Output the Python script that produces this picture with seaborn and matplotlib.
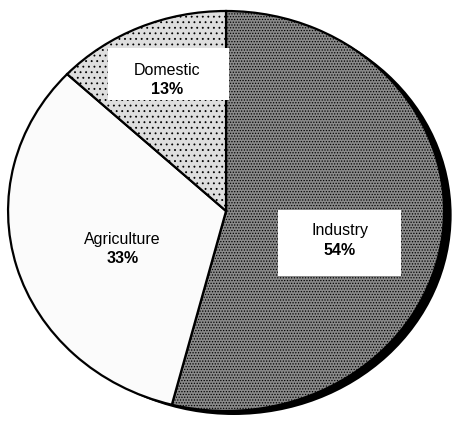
import matplotlib
matplotlib.use("Agg")
import matplotlib.pyplot as plt
import matplotlib.patches as mpatches
import seaborn as sns

# Data
categories = ["Industry", "Agriculture", "Domestic"]
shares = [54, 33, 13]
shade_colors = ["#8a8a8a", "#fbfbfb", "#dedede"]
hatches = ["......", "", "..."]

sns.set_style("white")
plt.rcParams["font.family"] = ["Liberation Sans", "DejaVu Sans"]
plt.rcParams["hatch.linewidth"] = 0.6
plt.rcParams["text.color"] = "black"

fig = plt.figure(figsize=(4.56, 4.22), dpi=100)
ax = fig.add_axes([0, 0, 1, 1])

# black shadow behind the pie (lower right)
shadow = mpatches.Ellipse((0.035, -0.02), 2.0, 2.0, facecolor="black", edgecolor="none", zorder=0)
ax.add_patch(shadow)

wedges, _ = ax.pie(shares, colors=shade_colors, startangle=90, counterclock=False,
                   wedgeprops=dict(edgecolor="black", linewidth=1.6))
for w, h in zip(wedges, hatches):
    w.set_hatch(h)
    w.set_zorder(1)

ax.set_aspect("auto")
ax.set_xlim(-1.037, 1.055)
ax.set_ylim(-1.055, 1.055)
ax.axis("off")

# label boxes (axes fraction positions)
label_pos = {"Industry": (0.745, 0.43), "Agriculture": (0.268, 0.41), "Domestic": (0.366, 0.81)}
box_rect = {"Industry": (0.61, 0.345, 0.27, 0.158), "Domestic": (0.237, 0.762, 0.265, 0.125)}
for name, pct in zip(categories, shares):
    if name in box_rect:
        x0, y0, bw, bh = box_rect[name]
        ax.add_patch(mpatches.Rectangle((x0, y0), bw, bh, transform=ax.transAxes,
                                        facecolor="white", edgecolor="none", zorder=3))
    x, y = label_pos[name]
    ax.text(x, y + 0.023, name, transform=ax.transAxes, ha="center", va="center",
            fontsize=11.5, color="black", zorder=4)
    ax.text(x, y - 0.023, f"{pct}%", transform=ax.transAxes, ha="center", va="center",
            fontsize=11.5, fontweight="bold", color="black", zorder=4)

fig.savefig("out.png", dpi=100)
